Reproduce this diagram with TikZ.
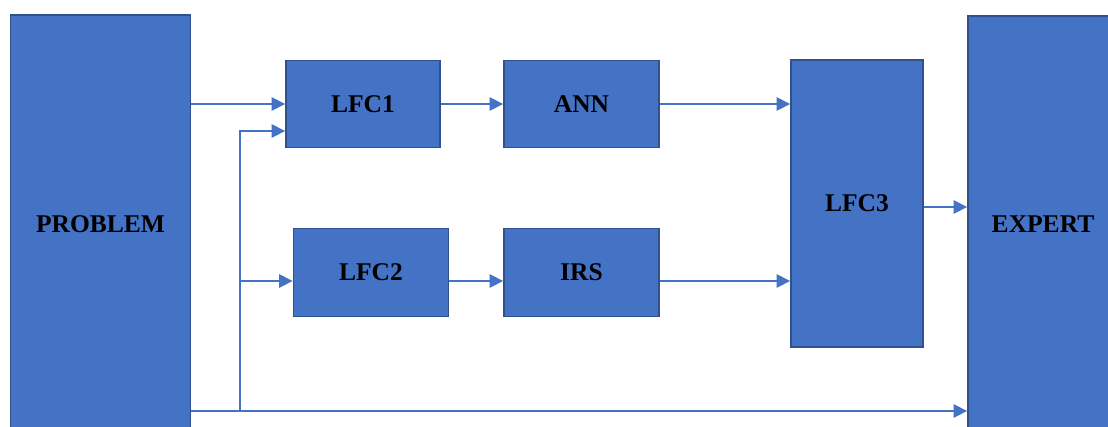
\documentclass[tikz,border=0pt]{standalone}
\usepackage{fontspec}
\setmainfont{Liberation Serif}
\usetikzlibrary{arrows.meta}
\definecolor{boxfill}{HTML}{4472C4}
\definecolor{boxedge}{HTML}{2F528F}
\definecolor{wire}{HTML}{4472C4}
\tikzset{
  block/.style={draw=boxedge, line width=1.8pt, fill=boxfill, inner sep=0pt,
    font=\fontsize{25.5}{29}\selectfont\bfseries, text=black},
  wirearrow/.style={draw=wire, line width=1.3pt,
    -{Triangle[length=13.5pt,width=13.5pt]}},
  wireplain/.style={draw=wire, line width=1.3pt}
}
\begin{document}
\begin{tikzpicture}[x=1pt,y=-1pt]
  \useasboundingbox (0,0) rectangle (1108,426);
  \clip (0,0) rectangle (1108,426);

  % blocks
  \node[block, minimum width=180pt, minimum height=418pt] (problem) at (100.5,224) {PROBLEM};
  \node[block, minimum width=150pt, minimum height=416pt] (expert) at (1043,224) {EXPERT};
  \node[block, minimum width=154pt, minimum height=87pt] (lfc1) at (363,104) {LFC1};
  \node[block, minimum width=155pt, minimum height=87pt] (ann) at (581.5,104) {ANN};
  \node[block, minimum width=155pt, minimum height=88pt] (lfc2) at (371,272.5) {LFC2};
  \node[block, minimum width=155pt, minimum height=88pt] (irs) at (581.5,272.5) {IRS};
  \node[block, minimum width=132pt, minimum height=287pt] (lfc3) at (857,203.5) {LFC3};

  % bus and branch points
  \coordinate (busy) at (0,411);
  \coordinate (split) at (240,411);
  \coordinate (rowtwo) at (0,281);

  % connectors
  \draw[wirearrow] (problem.east |- lfc1) -- (lfc1.west);
  \draw[wirearrow] (lfc1) -- (ann);
  \draw[wirearrow] (ann.east) -- (lfc3.west |- ann);
  \draw[wirearrow] (split) |- ([yshift=-27pt]lfc1.west);
  \draw[wirearrow] (split) |- (lfc2.west |- rowtwo);
  \draw[wirearrow] (lfc2.east |- rowtwo) -- (irs.west |- rowtwo);
  \draw[wirearrow] (irs.east |- rowtwo) -- (lfc3.west |- rowtwo);
  \draw[wirearrow] (lfc3.east |- 0,207) -- (expert.west |- 0,207);
  \draw[wirearrow] (problem.east |- busy) -- (expert.west |- busy);
\end{tikzpicture}
\end{document}
